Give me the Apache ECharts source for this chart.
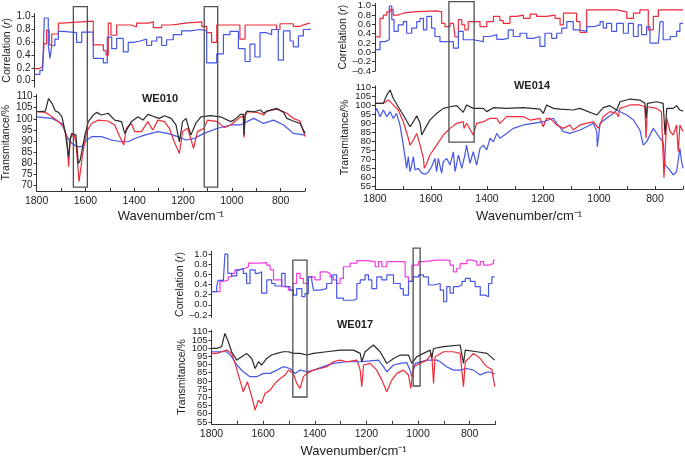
<!DOCTYPE html>
<html><head><meta charset="utf-8">
<script src="https://cdn.jsdelivr.net/npm/echarts@6/dist/echarts.min.js"></script>
<style>html,body{margin:0;padding:0;background:#fff}#c{width:685px;height:459px}</style>
</head><body><div id="c"></div>
<script>
// ---------- tick / label values ----------
const xTicks = [1800,1700,1600,1500,1400,1300,1200,1100,1000,900,800,700];
const xLabels = [1800,1600,1400,1200,1000,800];
const corrTicksA = [0,0.2,0.4,0.6,0.8,1.0];
const corrTicksB = [-0.4,-0.2,0,0.2,0.4,0.6,0.8,1.0];
const corrTicksC = [-0.2,0,0.2,0.4,0.6,0.8,1.0];
const transTicksA = [70,75,80,85,90,95,100,105,110];
const transTicksB = [55,60,65,70,75,80,85,90,95,100,105,110];

// ---------- WE010 ----------
const we010CorrRed = [[1800,0.19],[1780,0.22],[1767,0.2],[1761,0.58],[1751,0.79],[1740,0.56],[1730,0.73],[1703,0.9],[1690,0.93],[1561,0.56],[1520,0.47],[1509,0.4],[1500,0.9],[1489,0.71],[1466,0.87],[1405,0.84],[1385,0.9],[1337,0.92],[1317,0.83],[1283,0.87],[1249,0.88],[1222,0.9],[1188,0.92],[1120,0.85],[1100,0.75],[1080,0.6],[1059,0.87],[965,0.65],[944,0.87],[816,0.8],[802,0.89],[748,0.85],[721,0.88],[700,0.9],[680,0.9]];
const we010CorrBlue = [[1800,0.1],[1778,0.16],[1767,0.14],[1760,0.98],[1744,0.55],[1737,0.35],[1730,0.55],[1717,0.65],[1703,0.77],[1683,0.75],[1629,0.6],[1608,0.76],[1561,0.35],[1520,0.28],[1504,0.68],[1486,0.5],[1466,0.66],[1439,0.45],[1419,0.6],[1398,0.62],[1371,0.65],[1344,0.55],[1324,0.62],[1303,0.68],[1283,0.55],[1263,0.64],[1236,0.72],[1202,0.78],[1168,0.8],[1127,0.78],[1100,0.28],[1059,0.42],[1032,0.72],[1005,0.77],[971,0.5],[944,0.3],[924,0.57],[904,0.37],[883,0.75],[856,0.72],[836,0.8],[809,0.32],[788,0.78],[761,0.62],[748,0.53],[727,0.7],[707,0.8],[680,0.82]];
const we010Black = [[1800,103.2],[1764,103.5],[1751,109.2],[1737,107],[1723,103.5],[1710,102.9],[1696,100.9],[1683,94.2],[1669,82.8],[1662,91],[1656,93.4],[1639,92.6],[1629,79.8],[1622,81],[1615,85],[1602,92.6],[1588,98.7],[1568,101.7],[1554,102.9],[1534,101.7],[1507,102.5],[1480,99.4],[1452,98.7],[1439,93.4],[1412,98.7],[1385,100.9],[1364,99.4],[1344,102],[1317,100.9],[1297,100.2],[1276,101.4],[1249,100.2],[1229,97.2],[1215,89.6],[1202,98.7],[1188,100.2],[1168,92.6],[1148,97.9],[1127,100.9],[1087,101.4],[1046,100.9],[1005,98.7],[992,99.4],[965,102],[953,102],[950,92.6],[946,102],[938,103.5],[910,103.2],[883,104],[870,102.5],[856,103.5],[816,104.7],[788,102.9],[775,100.2],[748,99],[721,97.9],[700,93.4]];
const we010Red = [[1800,103.2],[1764,102.9],[1751,102],[1737,100.9],[1710,98.7],[1690,96.4],[1676,91.9],[1669,78.3],[1662,91],[1649,93.4],[1639,89.6],[1626,71.5],[1612,83.6],[1595,94.2],[1574,98],[1547,99.4],[1507,99],[1480,97.2],[1459,91.9],[1443,88.1],[1432,95.7],[1412,97.9],[1398,94.2],[1371,94.2],[1344,98.7],[1324,94.9],[1303,99.4],[1276,98.7],[1256,95.7],[1236,89.6],[1215,84.3],[1202,94.2],[1181,95.7],[1157,86.6],[1141,94.2],[1114,95.7],[1100,99.4],[1059,98.7],[1032,96],[1005,97.2],[965,100.9],[953,101],[950,91.5],[946,101],[938,103.2],[897,102.9],[870,101.7],[856,103.5],[816,104.4],[788,103.2],[775,102.5],[748,100.2],[721,99],[700,91.9]];
const we010Blue = [[1800,100.9],[1737,100.2],[1696,97.9],[1676,91.9],[1656,88.9],[1635,87.4],[1615,87.4],[1595,90.4],[1574,91.9],[1534,91.9],[1493,90.4],[1452,89.6],[1425,89.6],[1398,91.1],[1358,92.6],[1303,94.2],[1263,93.4],[1222,91.9],[1188,90.4],[1154,91.1],[1114,93.4],[1059,95.7],[1005,97.2],[965,97.2],[938,98.7],[910,100.2],[870,97.9],[829,99.4],[788,97.2],[748,93.4],[700,92.6]];

// ---------- WE014 ----------
const we014CorrRed = [[1796,0.33],[1782,0.73],[1770,0.8],[1758,0.87],[1746,0.92],[1735,0.8],[1717,0.84],[1699,0.87],[1663,0.89],[1580,0.87],[1562,0.62],[1550,0.55],[1532,0.62],[1520,0.59],[1514,0.33],[1502,0.7],[1490,0.59],[1479,0.48],[1467,0.66],[1425,0.55],[1401,0.66],[1377,0.77],[1354,0.68],[1342,0.62],[1318,0.77],[1294,0.8],[1270,0.73],[1246,0.82],[1223,0.77],[1187,0.8],[1157,0.73],[1139,0.59],[1127,0.84],[1080,0.66],[1068,0.43],[1044,0.91],[973,0.91],[937,0.87],[901,0.73],[877,0.84],[854,0.91],[824,0.48],[806,0.77],[788,0.91],[700,0.91]];
const we014CorrBlue = [[1796,0.06],[1782,0.23],[1764,0.27],[1749,0.99],[1740,0.7],[1732,0.45],[1717,0.59],[1699,0.66],[1687,0.41],[1669,0.52],[1651,0.66],[1639,0.73],[1627,0.48],[1615,0.77],[1598,0.52],[1586,0.34],[1568,0.23],[1520,0.09],[1502,0.45],[1485,0.27],[1449,0.23],[1413,0.34],[1389,0.38],[1365,0.28],[1342,0.3],[1324,0.48],[1306,0.34],[1282,0.41],[1258,0.3],[1235,0.34],[1211,0.13],[1193,0.41],[1169,0.3],[1151,0.41],[1133,0.52],[1115,0.66],[1092,0.48],[1068,0.45],[1044,0.55],[1020,0.59],[996,0.66],[985,0.52],[973,0.62],[955,0.45],[937,0.62],[913,0.41],[895,0.62],[877,0.34],[860,0.59],[848,0.38],[830,0.55],[818,0.2],[788,0.16],[782,0.66],[771,0.27],[746,0.34],[723,0.45],[711,0.62],[700,0.62]];
const we014Black = [[1800,101.3],[1770,101.3],[1758,105.9],[1746,108.7],[1735,104.1],[1717,99.4],[1699,94.8],[1675,88.3],[1663,91.1],[1651,94.4],[1639,90.2],[1633,83.7],[1621,87.4],[1604,92],[1580,95.7],[1556,98.5],[1532,99.4],[1508,100],[1485,96.3],[1473,100.4],[1449,98.5],[1413,98.5],[1401,96.7],[1377,98.9],[1330,98.5],[1270,98.9],[1211,98.1],[1199,95.7],[1187,100.4],[1163,98.5],[1139,98.1],[1092,97.6],[1068,98.5],[1008,94.8],[985,98.9],[961,100],[937,97.6],[925,102.2],[889,103.7],[854,103.1],[836,101.3],[832,93],[827,101.3],[794,102.2],[771,101.3],[764,83.7],[758,98.5],[735,98.5],[723,100],[711,97.6],[700,97]];
const we014Red = [[1800,101.3],[1770,101.3],[1752,103.1],[1740,101.3],[1717,97.6],[1699,91.1],[1681,81.9],[1675,78.1],[1663,80.9],[1651,84.6],[1639,78.1],[1627,70.7],[1624,65.2],[1615,68],[1604,72.6],[1580,78.1],[1556,83.7],[1532,87.4],[1508,90.2],[1485,91.1],[1482,87.4],[1473,90.2],[1449,83.7],[1437,90.2],[1413,91.1],[1389,93],[1365,93],[1354,90.2],[1330,93.9],[1270,93.9],[1246,92],[1211,93],[1199,88.3],[1187,93],[1175,93],[1151,89.3],[1127,87.4],[1104,89.3],[1092,86.5],[1068,89.3],[1020,91.1],[1002,87.4],[985,93.9],[961,96.7],[937,95.7],[931,93.9],[925,98.5],[889,100.4],[854,100.4],[836,99.4],[832,81.9],[827,99.4],[794,98.5],[777,96.7],[768,60],[758,93],[746,85.6],[735,83.7],[723,89.3],[717,74.4],[711,89.3],[700,85.6]];
const we014Blue = [[1800,95.7],[1794,98.5],[1782,93.9],[1770,97.6],[1758,93.9],[1746,96.7],[1735,93],[1723,95.7],[1711,89.3],[1699,78.1],[1687,65.2],[1681,71.7],[1675,63.3],[1669,67],[1663,71.7],[1657,64.3],[1645,65.2],[1633,62.5],[1621,62],[1610,63],[1598,66.1],[1586,70.7],[1580,63.3],[1574,70.7],[1562,62.5],[1556,68.9],[1544,70.7],[1532,67],[1520,74.4],[1514,63.3],[1502,72.6],[1490,65.2],[1479,72.6],[1473,78.1],[1461,68],[1449,74.4],[1437,67],[1425,76.3],[1413,78.1],[1401,75.4],[1389,81.9],[1377,79.9],[1365,84.6],[1354,81.9],[1330,84.6],[1306,87.4],[1270,89.3],[1235,90.2],[1199,91.1],[1163,93],[1151,90.2],[1127,85.6],[1104,84.6],[1068,86.5],[1044,88.3],[1020,90.2],[1008,85.6],[1006,77.2],[996,90.2],[973,93],[949,95.7],[937,97.6],[901,94.8],[877,92],[854,86.5],[842,78.1],[830,79.9],[806,87.4],[782,81.9],[771,79.9],[764,67],[752,65.2],[735,61.5],[723,63.3],[711,76.3],[705,68.9],[700,65.2]];

// ---------- WE017 ----------
const we017CorrMag = [[1800,0.26],[1767,0.46],[1754,0.49],[1735,0.55],[1722,0.62],[1709,0.69],[1690,0.72],[1670,0.75],[1657,0.82],[1612,0.83],[1586,0.78],[1573,0.69],[1560,0.49],[1528,0.36],[1502,0.29],[1485,0.42],[1470,0.62],[1457,0.52],[1444,0.42],[1425,0.55],[1399,0.49],[1379,0.65],[1354,0.62],[1341,0.55],[1328,0.49],[1315,0.42],[1302,0.52],[1289,0.75],[1263,0.82],[1237,0.87],[1199,0.85],[1166,0.75],[1153,0.85],[1140,0.75],[1121,0.85],[1069,0.85],[1050,0.55],[1037,0.46],[1024,0.78],[998,0.85],[979,0.88],[927,0.88],[889,0.87],[876,0.78],[863,0.65],[850,0.72],[837,0.81],[811,0.88],[792,0.85],[772,0.78],[759,0.85],[746,0.78],[727,0.81],[708,0.88],[703,0.88]];
const we017CorrBlue = [[1800,0.26],[1780,0.36],[1774,0.48],[1754,0.5],[1748,1.0],[1737,0.62],[1722,0.57],[1702,0.69],[1690,0.72],[1677,0.62],[1664,0.42],[1651,0.69],[1631,0.62],[1618,0.65],[1606,0.23],[1586,0.49],[1567,0.42],[1554,0.37],[1528,0.62],[1515,0.36],[1496,0.29],[1483,0.19],[1470,0.32],[1450,0.16],[1438,0.22],[1425,0.55],[1412,0.49],[1405,0.29],[1379,0.32],[1354,0.42],[1334,0.59],[1315,0.13],[1289,0.09],[1250,0.12],[1237,0.42],[1224,0.49],[1205,0.59],[1192,0.49],[1179,0.32],[1160,0.55],[1140,0.49],[1121,0.59],[1095,0.42],[1069,0.32],[1057,0.19],[1037,0.46],[1018,0.55],[998,0.59],[979,0.55],[960,0.39],[940,0.42],[914,0.29],[901,0.06],[889,0.36],[876,0.23],[863,0.36],[843,0.39],[830,0.46],[817,0.52],[798,0.46],[779,0.36],[759,0.19],[740,0.16],[727,0.42],[714,0.55],[703,0.55]];
const we017Black = [[1800,99.8],[1780,99.8],[1761,100.9],[1748,109],[1735,103.9],[1722,97.8],[1702,92.7],[1683,94.8],[1664,96.8],[1644,93.7],[1631,87.6],[1618,91.7],[1606,89.7],[1586,93.7],[1567,95.8],[1547,96.8],[1522,97.8],[1502,97.8],[1483,96.8],[1457,96.8],[1431,95.8],[1405,96.8],[1354,97.8],[1302,98.8],[1250,98.8],[1224,96.8],[1218,91.7],[1205,97.8],[1173,101.9],[1147,97.8],[1121,90.7],[1095,93.7],[1069,95.8],[1037,95.8],[1024,90.7],[1005,94.8],[979,96.8],[953,98.8],[947,93.7],[940,99.8],[901,100.9],[837,101.9],[824,90.7],[817,98.8],[772,97.8],[733,96.8],[703,92.7]];
const we017Red = [[1800,96.8],[1780,96.8],[1761,97.8],[1741,98.8],[1722,96.8],[1709,90.7],[1690,80.5],[1677,73.4],[1661,79.5],[1644,70.4],[1631,62.2],[1618,68.3],[1606,66.3],[1593,72.4],[1573,74.4],[1554,78.5],[1534,81.5],[1515,83.6],[1502,86.6],[1483,84.6],[1470,78.5],[1457,75.4],[1444,82.6],[1431,84.6],[1405,86.6],[1379,87.6],[1354,88.7],[1328,91.7],[1302,92.7],[1276,91.7],[1237,92.7],[1224,86.6],[1218,76.5],[1211,89.7],[1186,90.7],[1160,86.6],[1140,80.5],[1121,73.4],[1102,80.5],[1082,84.6],[1057,86.6],[1037,83.6],[1028,75.4],[1018,88.7],[992,90.7],[966,92.7],[947,96.8],[940,78.5],[934,94.8],[901,97.8],[863,97.8],[837,96.8],[824,76.5],[817,91.7],[785,96.8],[759,93.7],[746,90.7],[733,88.7],[714,87],[703,76.5]];
const we017Blue = [[1800,97.8],[1741,97.8],[1722,94.8],[1702,89.7],[1677,85.6],[1651,82.6],[1625,82.6],[1599,84.6],[1573,84.6],[1547,86.6],[1522,88.7],[1496,87.6],[1489,86.6],[1476,84.6],[1457,86.6],[1431,85.6],[1405,86.6],[1367,88.7],[1328,90.7],[1276,91.7],[1224,91.7],[1186,92.2],[1153,92.7],[1134,88.7],[1121,85.6],[1095,89.7],[1069,90.7],[1044,91.2],[1031,86.6],[1024,82.6],[1011,90.7],[966,92.7],[927,92.7],[914,91.7],[889,88.7],[863,86.6],[837,86.6],[811,87.6],[785,86.6],[759,83.6],[746,84.6],[727,85.6],[703,84.2]];

// boxes: [wnLeft, wnRight, topCorr, bottomTrans]
const we010Boxes = [[1642,1592,1.156,69.1],[1110,1058,1.156,69.1]];
const we014Boxes = [[1536,1446,1.086,79.8]];
const we017Boxes = [[1485,1430,0.88,70.2],[1019,992,1.118,76.9]];

const panelNames = ['WE010','WE014','WE017'];

// ---------- styling ----------
const FONT = 'Liberation Sans, Arial, sans-serif';
const RED = '#ee2b3b', BLUE = '#4656e6', BLACK = '#2b2b2b', MAG = '#f23ce0';
const TXT = '#222';

const grids = [
  {left:34.5, top:13.5, width:275.5, height:73.6},
  {left:34.5, top:94.5, width:270.6, height:96.5},
  {left:375, top:3.4, width:308, height:67.6},
  {left:375, top:85.9, width:308, height:103.1},
  {left:211.5, top:251.5, width:284, height:66},
  {left:211.5, top:330.1, width:284, height:93.8}
];

function xAx(gi, show, min, gap) {
  return {
    type:'value', gridIndex:gi, inverse:true, min:min, max:1800, show:show,
    axisLine:{show:true, lineStyle:{color:'#333', width:1}},
    axisTick:{show:true, inside:true, length:3, interval:0, customValues:xTicks, lineStyle:{color:'#333'}},
    axisLabel:{customValues:xLabels, interval:0, fontSize:10.5, color:TXT, margin:5, fontFamily:FONT,
      formatter: v => String(v), showMinLabel:true, showMaxLabel:true},
    splitLine:{show:false},
    name: show ? 'Wavenumber/cm\u207B\u00B9' : '', nameLocation:'middle', nameGap:gap,
    nameTextStyle:{fontSize:13, color:TXT, fontFamily:FONT}
  };
}
function corrFmt(v){ return (v < -0.001 ? '\u2013' : '') + Math.abs(v).toFixed(1); }
function transFmt(v){ return String(Math.round(v)); }
const evenOf = a => a.filter((v,i) => i % 2 === 0);
const oddOf = a => a.filter((v,i) => i % 2 === 1);

// main axis: line, all ticks, name, and (if split) every other label
function yAx(gi, min, max, ticks, name, gap, fmt, fs, split) {
  return {
    type:'value', gridIndex:gi, min:min, max:max, position:'left', offset:0,
    axisLine:{show:true, lineStyle:{color:'#333', width:1}},
    axisTick:{show:true, inside:false, length:3, interval:0, customValues:ticks, lineStyle:{color:'#333'}},
    axisLabel:{customValues: split ? evenOf(ticks) : ticks, interval:0, fontSize:fs, color:TXT, margin:4, fontFamily:FONT, formatter:fmt,
      showMinLabel:true, showMaxLabel:true},
    splitLine:{show:false},
    name:name, nameLocation:'middle', nameGap:gap, nameRotate:90,
    nameTextStyle:{fontSize:10.5, color:TXT, fontFamily:FONT,
      rich:{i:{fontStyle:'italic', fontSize:10.5, color:TXT, fontFamily:FONT}, n:{fontSize:10.5, color:TXT, fontFamily:FONT}}}
  };
}
// companion axis carrying the remaining labels of a dense axis
function yAxAlt(gi, min, max, ticks, fmt, fs) {
  return {
    type:'value', gridIndex:gi, min:min, max:max, position:'left', offset:0,
    axisLine:{show:false}, axisTick:{show:false}, splitLine:{show:false},
    axisLabel:{customValues: oddOf(ticks), interval:0, fontSize:fs, color:TXT, margin:4, fontFamily:FONT, formatter:fmt,
      showMinLabel:true, showMaxLabel:true}
  };
}
const CORR = '{n|Correlation (}{i|r}{n|)}';
const TRANS = 'Transmitance/%';

function ln(data, xi, yi, color, step) {
  return {type:'line', xAxisIndex:xi, yAxisIndex:yi, data:data, step: step ? 'end' : false,
    showSymbol:false, symbol:'none', silent:true, animation:false,
    lineStyle:{color:color, width:1.2}, z:2};
}

const option = {
  animation:false,
  grid: grids,
  xAxis: [
    xAx(0,false,680,20), xAx(1,true,700,19),
    xAx(2,false,700,20), xAx(3,true,700,21),
    xAx(4,false,700,20), xAx(5,true,700,21)
  ],
  yAxis: [
    yAx(0,-0.1,1.05,corrTicksA,CORR,21,corrFmt,10,false),
    yAx(1,67.3,111,transTicksA,TRANS,22,transFmt,10,false),
    yAx(2,-0.4,1.05,corrTicksB,CORR,24,corrFmt,9.5,true),
    yAx(3,53.7,111,transTicksB,TRANS,24,transFmt,9.5,true),
    yAx(4,-0.25,1.05,corrTicksC,CORR,14,corrFmt,9.5,false),
    yAx(5,53.8,111,transTicksB,TRANS,15,transFmt,9.5,true),
    yAxAlt(2,-0.4,1.05,corrTicksB,corrFmt,9.5),
    yAxAlt(3,53.7,111,transTicksB,transFmt,9.5),
    yAxAlt(5,53.8,111,transTicksB,transFmt,9.5)
  ],
  series: [
    ln(we010CorrRed,0,0,RED,true), ln(we010CorrBlue,0,0,BLUE,true),
    ln(we010Blue,1,1,BLUE), ln(we010Red,1,1,RED), ln(we010Black,1,1,BLACK),
    ln(we014CorrRed,2,2,RED,true), ln(we014CorrBlue,2,2,BLUE,true),
    ln(we014Blue,3,3,BLUE), ln(we014Red,3,3,RED), ln(we014Black,3,3,BLACK),
    ln(we017CorrMag,4,4,MAG,true), ln(we017CorrBlue,4,4,BLUE,true),
    ln(we017Blue,5,5,BLUE), ln(we017Red,5,5,RED), ln(we017Black,5,5,BLACK)
  ]
};

const chart = echarts.init(document.getElementById('c'), null, {renderer:'canvas'});
chart.setOption(option);

const gfx = [];
function addBoxes(boxes, cg, tg) {
  boxes.forEach(b => {
    const p1 = chart.convertToPixel({xAxisIndex:cg, yAxisIndex:cg}, [b[0], b[2]]);
    const p2 = chart.convertToPixel({xAxisIndex:tg, yAxisIndex:tg}, [b[1], b[3]]);
    gfx.push({type:'rect', silent:true, z:100,
      shape:{x:p1[0], y:p1[1], width:p2[0]-p1[0], height:p2[1]-p1[1]},
      style:{fill:'none', stroke:'#505050', lineWidth:1.3}});
  });
}
addBoxes(we010Boxes,0,1);
addBoxes(we014Boxes,2,3);
addBoxes(we017Boxes,4,5);
const labelPos = [[160,99],[532,86],[355,325]];
panelNames.forEach((t,i) => {
  gfx.push({type:'text', silent:true, z:100, x:labelPos[i][0], y:labelPos[i][1],
    style:{text:t, fill:TXT, font:'bold 11px ' + FONT, textAlign:'center', textVerticalAlign:'middle'}});
});
chart.setOption({graphic: gfx});
</script></body></html>
